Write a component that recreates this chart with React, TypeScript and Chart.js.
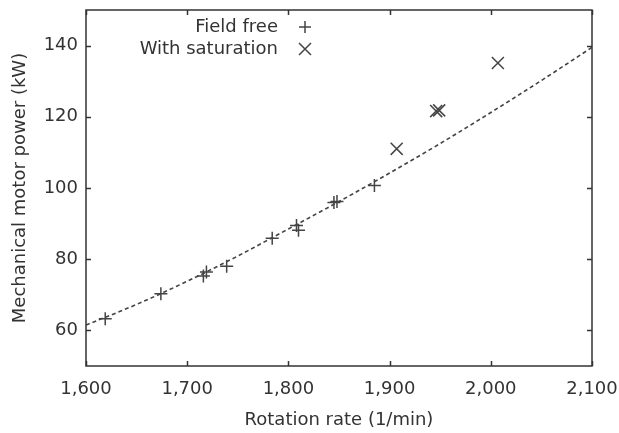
import React, { useEffect, useRef } from "react";
import { Chart, registerables } from "chart.js";

Chart.register(...registerables);

// Measured points
const fieldFreeRpm = [1619, 1674, 1716, 1719, 1739, 1784, 1808, 1810, 1845, 1848, 1885];
const fieldFreeKw = [63.3, 70.3, 75.3, 76.4, 78.0, 85.9, 89.5, 88.1, 95.9, 96.2, 100.7];
const saturationRpm = [1907, 1946, 1949, 2007];
const saturationKw = [111.0, 121.6, 121.8, 135.1];

// Dashed fit curve
const fitRpm = [1600, 1650, 1700, 1750, 1800, 1850, 1900, 1950, 2000, 2050, 2100];
const fitKw = [61.5, 67.3, 73.8, 80.9, 88.5, 96.2, 104.2, 112.5, 121.2, 130.2, 139.5];

// Axes
const xTicks = [1600, 1700, 1800, 1900, 2000, 2100];
const yTicks = [60, 80, 100, 120, 140];
const xRange = [1600, 2100];
const yRange = [50, 150];

const seriesLabels = ["Field free", "With saturation"];
const xTitle = "Rotation rate (1/min)";
const yTitle = "Mechanical motor power (kW)";

const INK = "#333333";
const MARK = "#444444";
const FONT = "'DejaVu Sans', 'Liberation Sans', Arial, sans-serif";

const framePlugin = {
  id: "frame",
  afterDatasetsDraw(chart: any) {
    const { ctx, chartArea: a, scales } = chart;
    ctx.save();
    ctx.strokeStyle = INK;
    ctx.lineWidth = 1.5;
    ctx.strokeRect(a.left, a.top, a.right - a.left, a.bottom - a.top);
    const L = 5;
    ctx.beginPath();
    scales.x.ticks.forEach((t: any) => {
      const px = Math.round(scales.x.getPixelForValue(t.value)) + 0.5;
      ctx.moveTo(px, a.bottom);
      ctx.lineTo(px, a.bottom - L);
      ctx.moveTo(px, a.top);
      ctx.lineTo(px, a.top + L);
    });
    scales.y.ticks.forEach((t: any) => {
      const py = Math.round(scales.y.getPixelForValue(t.value)) + 0.5;
      ctx.moveTo(a.left, py);
      ctx.lineTo(a.left + L, py);
      ctx.moveTo(a.right, py);
      ctx.lineTo(a.right - L, py);
    });
    ctx.stroke();

    // legend: text right-aligned, symbol to its right
    ctx.font = `18px ${FONT}`;
    ctx.fillStyle = INK;
    ctx.textAlign = "right";
    ctx.textBaseline = "middle";
    const textRight = a.right - 314;
    const symX = a.right - 287;
    const rows = [a.top + 17, a.top + 39];
    const legendSets = chart.data.datasets.filter((d: any) => d.label);
    legendSets.forEach((d: any, i: number) => {
      const y = rows[i];
      ctx.fillText(d.label, textRight, y);
      ctx.strokeStyle = MARK;
      ctx.lineWidth = 1.5;
      ctx.beginPath();
      if (d.pointStyle === "cross") {
        const r = 6;
        ctx.moveTo(symX - r, y);
        ctx.lineTo(symX + r, y);
        ctx.moveTo(symX, y - r);
        ctx.lineTo(symX, y + r);
      } else {
        const r = 6;
        ctx.moveTo(symX - r, y - r);
        ctx.lineTo(symX + r, y + r);
        ctx.moveTo(symX - r, y + r);
        ctx.lineTo(symX + r, y - r);
      }
      ctx.stroke();
    });
    ctx.restore();
  },
};

export default function App() {
  const ref = useRef<HTMLCanvasElement | null>(null);

  useEffect(() => {
    document.body.style.margin = "0";
    const canvas = ref.current!;
    const chart = new Chart(canvas, {
      type: "scatter",
      data: {
        datasets: [
          {
            label: "",
            data: fitRpm.map((x, i) => ({ x, y: fitKw[i] })),
            showLine: true,
            borderColor: MARK,
            borderWidth: 1.6,
            borderDash: [4, 3],
            pointRadius: 0,
            tension: 0.4,
            cubicInterpolationMode: "monotone",
          } as any,
          {
            label: seriesLabels[0],
            data: fieldFreeRpm.map((x, i) => ({ x, y: fieldFreeKw[i] })),
            pointStyle: "cross",
            pointRadius: 6.5,
            borderColor: MARK,
            backgroundColor: MARK,
            pointBorderWidth: 1.5,
          } as any,
          {
            label: seriesLabels[1],
            data: saturationRpm.map((x, i) => ({ x, y: saturationKw[i] })),
            pointStyle: "crossRot",
            pointRadius: 8.5,
            borderColor: MARK,
            backgroundColor: MARK,
            pointBorderWidth: 1.5,
          } as any,
        ],
      },
      options: {
        animation: false,
        responsive: false,
        maintainAspectRatio: false,
        layout: { padding: { top: 8, right: 27, left: 0, bottom: 0 } },
        plugins: { legend: { display: false }, tooltip: { enabled: false } },
        scales: {
          x: {
            type: "linear",
            min: xRange[0],
            max: xRange[1],
            afterBuildTicks: (s: any) => {
              s.ticks = xTicks.map((v) => ({ value: v }));
            },
            afterFit: (s: any) => {
              s.height = 67;
              s.paddingLeft = 0;
              s.paddingRight = 0;
            },
            grid: { display: false, drawTicks: false },
            border: { display: false },
            ticks: {
              color: INK,
              padding: 13,
              font: { family: FONT, size: 18 },
              maxRotation: 0,
              callback: (v: any) => Number(v).toLocaleString("en-US"),
            },
            title: {
              display: true,
              text: xTitle,
              color: INK,
              font: { family: FONT, size: 18 },
              padding: { top: 0, bottom: 2 },
            },
          },
          y: {
            type: "linear",
            min: yRange[0],
            max: yRange[1],
            afterBuildTicks: (s: any) => {
              s.ticks = yTicks.map((v) => ({ value: v }));
            },
            afterFit: (s: any) => {
              s.width = 86;
              s.paddingTop = 0;
              s.paddingBottom = 0;
            },
            grid: { display: false, drawTicks: false },
            border: { display: false },
            ticks: {
              color: INK,
              padding: 8,
              font: { family: FONT, size: 18 },
            },
            title: {
              display: true,
              text: yTitle,
              color: INK,
              font: { family: FONT, size: 18 },
              padding: { top: 10, bottom: 0 },
            },
          },
        },
      },
      plugins: [framePlugin],
    });
    return () => chart.destroy();
  }, []);

  return (
    <div style={{ position: "absolute", left: 0, top: 0, width: 619, height: 433, background: "#fff" }}>
      <canvas ref={ref} width={619} height={433} style={{ display: "block", width: 619, height: 433 }} />
    </div>
  );
}
